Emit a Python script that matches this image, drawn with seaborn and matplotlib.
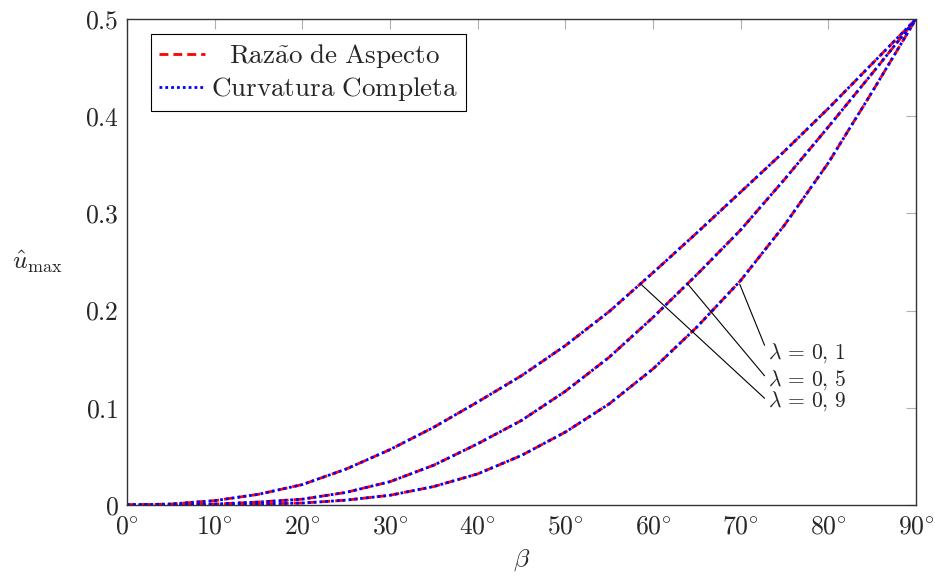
import matplotlib
matplotlib.use("Agg")
import matplotlib.pyplot as plt
import seaborn as sns
import pandas as pd

beta = [0, 5, 10, 15, 20, 25, 30, 35, 40, 45, 50, 55, 60, 65, 70, 75, 80, 85, 90]
u_l09 = [0, 0.001, 0.0045, 0.011, 0.021, 0.037, 0.057, 0.080, 0.106, 0.133, 0.164, 0.199, 0.239, 0.280, 0.322, 0.364, 0.408, 0.454, 0.5]
u_l05 = [0, 0.0002, 0.001, 0.003, 0.006, 0.013, 0.024, 0.041, 0.063, 0.087, 0.117, 0.152, 0.193, 0.237, 0.283, 0.335, 0.389, 0.444, 0.5]
u_l01 = [0, 0, 0.0003, 0.001, 0.002, 0.005, 0.010, 0.019, 0.032, 0.051, 0.075, 0.104, 0.140, 0.183, 0.231, 0.288, 0.352, 0.425, 0.5]

series_labels = [r"$\mathrm{Raz\tilde{a}o\ de\ Aspecto}$", r"$\mathrm{Curvatura\ Completa}$"]
lambda_labels = [r"$\lambda \,=\, 0,\,1$", r"$\lambda \,=\, 0,\,5$", r"$\lambda \,=\, 0,\,9$"]
x_ticks = [0, 10, 20, 30, 40, 50, 60, 70, 80, 90]
y_ticks = [0, 0.1, 0.2, 0.3, 0.4, 0.5]
y_ticklabels = ["0", "0.1", "0.2", "0.3", "0.4", "0.5"]

sns.set_style("white")
plt.rcParams["mathtext.fontset"] = "cm"
plt.rcParams["font.family"] = ["cmr10", "DejaVu Serif"]
plt.rcParams["axes.formatter.use_mathtext"] = True

FS = 18.5

fig = plt.figure(figsize=(9.35, 5.76), dpi=100)
ax = fig.add_axes([127/935, 71/576, 789/935, 486/576])

curves = [u_l01, u_l05, u_l09]
for i, u in enumerate(curves):
    df = pd.DataFrame({"beta": beta, "u": u})
    sns.lineplot(data=df, x="beta", y="u", ax=ax, color="#ff0000", lw=2.0,
                 linestyle=(0, (3.2, 1.8)),
                 label=(series_labels[0] if i == 0 else None))
for i, u in enumerate(curves):
    df = pd.DataFrame({"beta": beta, "u": u})
    sns.lineplot(data=df, x="beta", y="u", ax=ax, color="#0000ff", lw=2.0,
                 linestyle=(0, (1.0, 1.1)),
                 label=(series_labels[1] if i == 0 else None))

ax.set_xlim(0, 90)
ax.set_ylim(0, 0.5)
ax.set_xticks(x_ticks)
ax.set_xticklabels([r"$%d^{\circ}$" % t for t in x_ticks])
ax.set_yticks(y_ticks)
ax.set_yticklabels([r"$%s$" % t for t in y_ticklabels])
ax.tick_params(axis="both", which="both", direction="in", length=7, width=0.8,
               color="#b0b0b0", labelsize=FS, top=True, right=True)
ax.tick_params(axis="x", pad=7)
ax.tick_params(axis="y", pad=6)

for s in ax.spines.values():
    s.set_color("#333333")
    s.set_linewidth(1.0)

ax.set_xlabel(r"$\beta$", fontsize=FS, labelpad=6)
ax.set_ylabel(r"$\hat{u}_{\max}$", fontsize=FS, rotation=0, va="center", ha="center")
ax.yaxis.set_label_coords(-0.114, 0.5)

# annotations
ann_pts = [(69.9, 0.227), (63.95, 0.2275), (58.7, 0.2265)]
ann_txt_y = [0.156, 0.1289, 0.1067]
for (px, py), ty, lab in zip(ann_pts, ann_txt_y, lambda_labels):
    ax.annotate(lab, xy=(px, py), xytext=(73.1, ty), textcoords="data",
                fontsize=15.5, ha="left", va="center",
                arrowprops=dict(arrowstyle="-", color="black", lw=0.8,
                                shrinkA=0, shrinkB=0, relpos=(0, 0.5)))

leg = ax.legend(loc="upper left", bbox_to_anchor=(0.0304, 0.969), fontsize=19.5,
                frameon=True, fancybox=False, edgecolor="black",
                handlelength=1.7, handletextpad=0.22, borderpad=0.3,
                labelspacing=0.18, borderaxespad=0)
leg.get_frame().set_linewidth(0.8)
leg.get_frame().set_alpha(1)

# centre the legend texts like the reference
fig.canvas.draw()
r = fig.canvas.get_renderer()
texts = leg.get_texts()
widths = [t.get_window_extent(r).width for t in texts]
wmax = max(widths)
for t, w in zip(texts, widths):
    t.set_position(((wmax - w) / 2.0, 0))

fig.savefig("out.png", dpi=100)
